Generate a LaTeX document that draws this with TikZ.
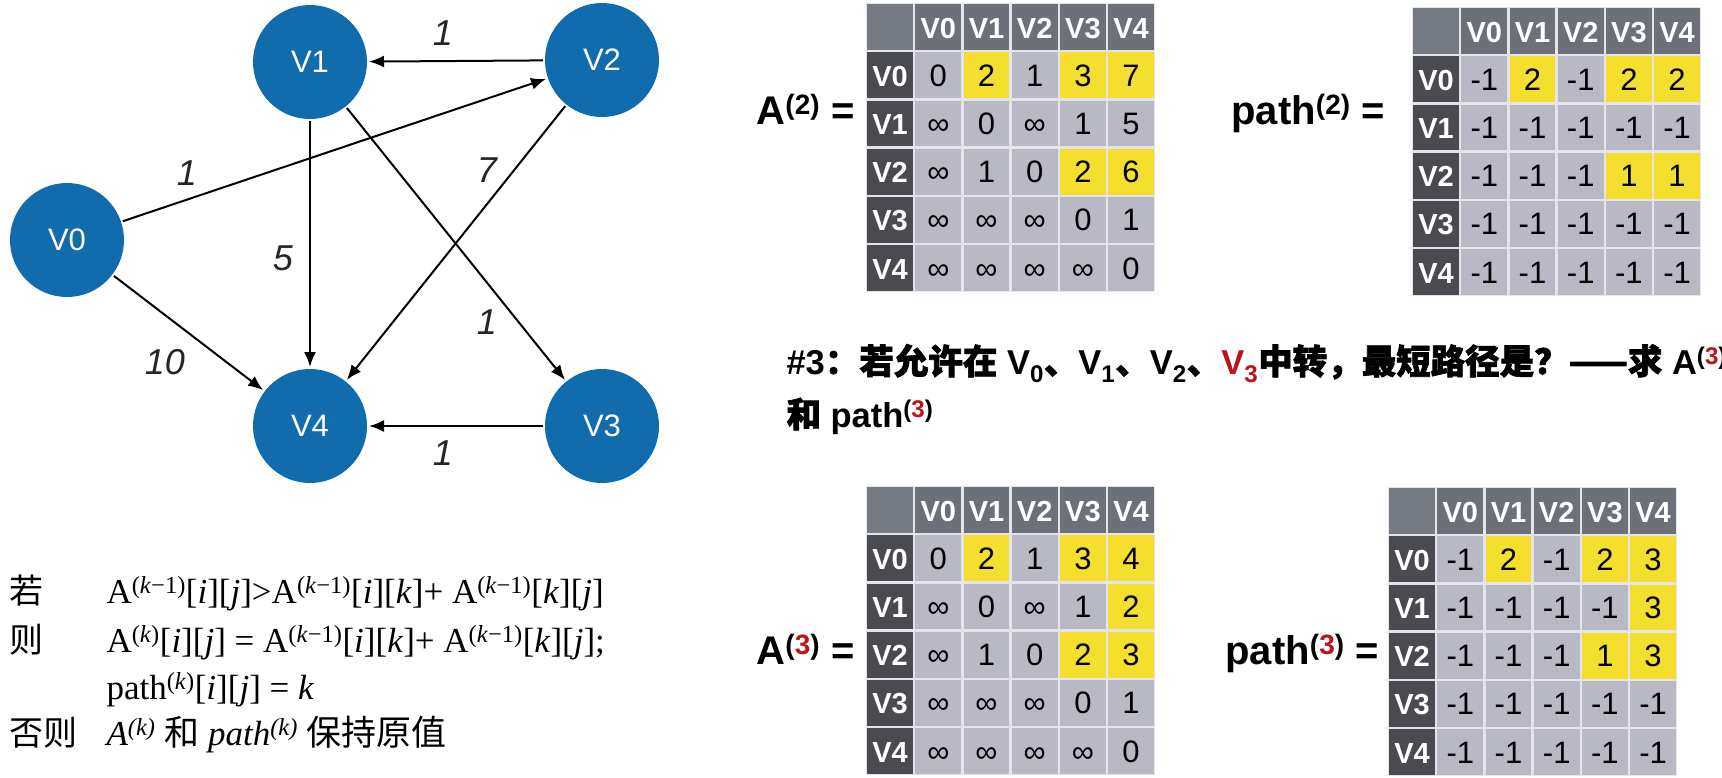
\documentclass[tikz,border=0pt]{standalone}
\usepackage{fontspec}
\setmainfont{Liberation Serif}
\newfontfamily\hv{Liberation Sans}
\newfontfamily\cjk{Noto Sans CJK SC}
\newfontfamily\cjkb[FakeBold=2]{Noto Sans CJK SC}
\usetikzlibrary{arrows.meta,matrix}
\definecolor{nodeblue}{RGB}{16,108,172}
\definecolor{cellbg}{RGB}{185,185,198}
\definecolor{colhd}{RGB}{108,112,120}
\definecolor{rowhd}{RGB}{74,75,80}
\definecolor{cornerc}{RGB}{118,122,130}
\definecolor{hlyellow}{RGB}{245,223,46}
\definecolor{gridc}{RGB}{228,228,234}
\definecolor{redc}{RGB}{185,20,25}
\begin{document}
\begin{tikzpicture}[x=1pt,y=-1pt,
  vtx/.style={circle,fill=nodeblue,minimum size=114pt,inner sep=0pt,outer sep=2pt,text=white,font=\hv\fontsize{31}{31}\selectfont},
  edge/.style={-{Latex[length=15pt,width=12pt]},line width=2pt,black},
  wlabel/.style={font=\hv\itshape\fontsize{36}{36}\selectfont,text=black!85},
  cell/.style={minimum width=47pt,minimum height=47pt,inner sep=0pt,outer sep=0pt,draw=gridc,line width=1.2pt,fill=cellbg,font=\hv\fontsize{31}{31}\selectfont,text=black,anchor=center,text height=22pt,text depth=0pt},
  hd/.style={fill=colhd,text=white,font=\hv\bfseries\fontsize{29}{29}\selectfont},
  rh/.style={fill=rowhd,text=white,font=\hv\bfseries\fontsize{29}{29}\selectfont},
  cn/.style={fill=cornerc},
  hl/.style={fill=hlyellow},
  tbl/.style={matrix of nodes,nodes in empty cells,nodes={cell},column sep=0pt,row sep=0pt,inner sep=0pt,outer sep=0pt,anchor=north west,
    row 1/.style={nodes={hd}},column 1/.style={nodes={rh}},row 1 column 1/.style={nodes={cn}}},
  lbl/.style={anchor=base west,font=\hv\bfseries\fontsize{40}{40}\selectfont},
  formula/.style={anchor=base west,font=\fontsize{35}{35}\selectfont},
  cjklbl/.style={anchor=base west,font=\cjk\fontsize{34}{34}\selectfont},
  heading/.style={anchor=base west,font=\hv\bfseries\fontsize{34.5}{34.5}\selectfont}
]
\fill[white] (0,0) rectangle (1722,777);
\useasboundingbox (0,0) rectangle (1722,777);

% graph
\node[vtx] (v0) at (67,240) {V0};
\node[vtx] (v1) at (310,62) {V1};
\node[vtx] (v2) at (602,60) {V2};
\node[vtx] (v3) at (602,426) {V3};
\node[vtx] (v4) at (310,426) {V4};
\draw[edge] (v2) -- (v1);
\draw[edge] (v0) -- (v2);
\draw[edge] (v0) -- (v4);
\draw[edge] (v1) -- (v4);
\draw[edge] (v1) -- (v3);
\draw[edge] (v2) -- (v4);
\draw[edge] (v3) -- (v4);
\node[wlabel] (w21) at (443,33) {1};
\node[wlabel] (w02) at (187,173) {1};
\node[wlabel] (w24) at (487,170) {7};
\node[wlabel] (w14) at (283,258) {5};
\node[wlabel] (w13) at (487,322) {1};
\node[wlabel] (w04) at (165,362) {10};
\node[wlabel] (w34) at (443,453) {1};

% tables
\matrix (A2) [tbl] at (866,3) {
  & V0 & V1 & V2 & V3 & V4 \\
V0 & 0 & |[hl]| 2 & 1 & |[hl]| 3 & |[hl]| 7 \\
V1 & ∞ & 0 & ∞ & 1 & 5 \\
V2 & ∞ & 1 & 0 & |[hl]| 2 & |[hl]| 6 \\
V3 & ∞ & ∞ & ∞ & 0 & 1 \\
V4 & ∞ & ∞ & ∞ & ∞ & 0 \\
};
\matrix (P2) [tbl] at (1412,7) {
  & V0 & V1 & V2 & V3 & V4 \\
V0 & -1 & |[hl]| 2 & -1 & |[hl]| 2 & |[hl]| 2 \\
V1 & -1 & -1 & -1 & -1 & -1 \\
V2 & -1 & -1 & -1 & |[hl]| 1 & |[hl]| 1 \\
V3 & -1 & -1 & -1 & -1 & -1 \\
V4 & -1 & -1 & -1 & -1 & -1 \\
};
\matrix (A3) [tbl] at (866,486) {
  & V0 & V1 & V2 & V3 & V4 \\
V0 & 0 & |[hl]| 2 & 1 & |[hl]| 3 & |[hl]| 4 \\
V1 & ∞ & 0 & ∞ & 1 & |[hl]| 2 \\
V2 & ∞ & 1 & 0 & |[hl]| 2 & |[hl]| 3 \\
V3 & ∞ & ∞ & ∞ & 0 & 1 \\
V4 & ∞ & ∞ & ∞ & ∞ & 0 \\
};
\matrix (P3) [tbl] at (1388,487) {
  & V0 & V1 & V2 & V3 & V4 \\
V0 & -1 & |[hl]| 2 & -1 & |[hl]| 2 & |[hl]| 3 \\
V1 & -1 & -1 & -1 & -1 & |[hl]| 3 \\
V2 & -1 & -1 & -1 & |[hl]| 1 & |[hl]| 3 \\
V3 & -1 & -1 & -1 & -1 & -1 \\
V4 & -1 & -1 & -1 & -1 & -1 \\
};

% table labels
\node[lbl] (la2) at (753,124) {A\textsuperscript{(2)} =};
\node[lbl] (lp2) at (1228,124) {path\textsuperscript{(2)} =};
\node[lbl] (la3) at (753,664) {A\textsuperscript{(\textcolor{redc}{3})} =};
\node[lbl] (lp3) at (1222,664) {path\textsuperscript{(\textcolor{redc}{3})} =};

% heading
\node[heading] (h1) at (783,374) {\#3{\cjkb ：若允许在} V\textsubscript{0}{\cjkb 、}V\textsubscript{1}{\cjkb 、}V\textsubscript{2}{\cjkb 、}\textcolor{redc}{V\textsubscript{3}}{\cjkb 中转，最短路径是？——求} A\textsuperscript{(\textcolor{redc}{3})}};
\node[heading] (h2) at (783,427) {{\cjkb 和} path\textsuperscript{(\textcolor{redc}{3})}};

% rule
\node[cjklbl] (c1) at (6,603) {若};
\node[formula] (f1) at (103,603) {A\textsuperscript{(\textit{k}−1)}[\textit{i}][\textit{j}]>A\textsuperscript{(\textit{k}−1)}[\textit{i}][\textit{k}]+ A\textsuperscript{(\textit{k}−1)}[\textit{k}][\textit{j}]};
\node[cjklbl] (c2) at (6,652) {则};
\node[formula] (f2) at (103,652) {A\textsuperscript{(\textit{k})}[\textit{i}][\textit{j}] = A\textsuperscript{(\textit{k}−1)}[\textit{i}][\textit{k}]+ A\textsuperscript{(\textit{k}−1)}[\textit{k}][\textit{j}];};
\node[formula] (f3) at (103,699) {path\textsuperscript{(\textit{k})}[\textit{i}][\textit{j}] = \textit{k}};
\node[cjklbl] (c4) at (6,745) {否则};
\node[formula] (f4) at (103,745) {\textit{A\textsuperscript{(k)}} {\cjk 和} \textit{path\textsuperscript{(k)}} {\cjk 保持原值}};
\end{tikzpicture}
\end{document}
